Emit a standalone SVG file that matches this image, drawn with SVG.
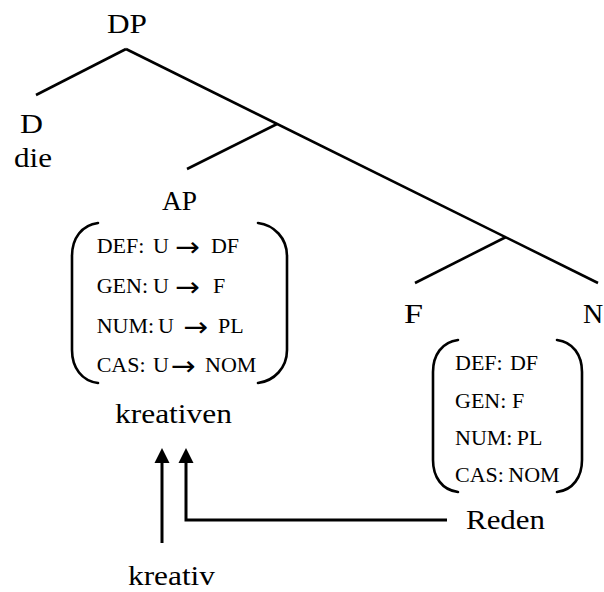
<svg xmlns="http://www.w3.org/2000/svg" width="604" height="592" viewBox="0 0 604 592">
  <style>
    .big { font-family: 'Liberation Serif', 'DejaVu Serif', serif; font-size: 28px; fill: #000; }
    .sm { font-family: 'Liberation Serif', 'DejaVu Serif', serif; font-size: 20px; fill: #000; }
    .ar { font-family: 'DejaVu Sans', sans-serif; font-size: 27px; }
    .edge { stroke: #000; stroke-width: 2.6; fill: none; }
    .brk { stroke: #000; stroke-width: 2.6; fill: none; stroke-linecap: round; }
    .arr { stroke: #000; stroke-width: 3; fill: none; marker-end: url(#head); }
  </style>
  <defs>
    <marker id="head" markerUnits="userSpaceOnUse" markerWidth="16" markerHeight="16" refX="0" refY="7.5" orient="auto" overflow="visible">
      <path d="M0,0 L15,7.5 L0,15 Z" fill="#000"/>
    </marker>
  </defs>
  <rect width="604" height="592" fill="#fff"/>

  <g id="connectors">
    <line class="edge" x1="126" y1="49" x2="36" y2="95"/>
    <line class="edge" x1="126" y1="49" x2="598" y2="283"/>
    <line class="edge" x1="277" y1="124" x2="187" y2="169"/>
    <line class="edge" x1="506" y1="237" x2="415" y2="283"/>
    <line class="arr" x1="162" y1="543" x2="162" y2="463"/>
    <polyline class="arr" points="447,520 186,520 186,463"/>
  </g>

  <g id="DP"><text class="big" x="107" y="33" textLength="40" lengthAdjust="spacingAndGlyphs">DP</text></g>
  <g id="D">
    <text class="big" x="20" y="133" textLength="23" lengthAdjust="spacingAndGlyphs">D</text>
    <text class="big" x="14" y="167" textLength="38" lengthAdjust="spacingAndGlyphs">die</text>
  </g>
  <g id="AP">
    <text class="big" x="162" y="210" textLength="35" lengthAdjust="spacingAndGlyphs">AP</text>
    <path class="brk" d="M98,223 C82,225 72,238 72,256 L72,350 C72,368 82,381 98,383"/>
    <path class="brk" d="M258,223 C274,225 287,238 287,256 L287,350 C287,368 274,381 258,383"/>
    <text class="sm" transform="translate(96.7 253) scale(1.1 1)">DEF:<tspan x="51.2">U</tspan><tspan class="ar" x="71.5" dy="3">→</tspan><tspan x="103.9" dy="-3">DF</tspan></text>
    <text class="sm" transform="translate(96.7 292.5) scale(1.1 1)">GEN:<tspan x="51.2">U</tspan><tspan class="ar" x="71.5" dy="3">→</tspan><tspan x="105.7" dy="-3">F</tspan></text>
    <text class="sm" transform="translate(96.7 332.5) scale(1.1 1)">NUM:<tspan x="55.7">U</tspan><tspan class="ar" x="79" dy="3">→</tspan><tspan x="110.3" dy="-3">PL</tspan></text>
    <text class="sm" transform="translate(96.7 372) scale(1.1 1)">CAS:<tspan x="51.2">U</tspan><tspan class="ar" x="67.5" dy="3">→</tspan><tspan x="98.5" dy="-3">NOM</tspan></text>
    <text class="big" x="115" y="423" textLength="117" lengthAdjust="spacingAndGlyphs">kreativen</text>
  </g>
  <g id="F"><text class="big" x="404" y="323" textLength="19" lengthAdjust="spacingAndGlyphs">F</text></g>
  <g id="N">
    <text class="big" x="583" y="323">N</text>
    <path class="brk" d="M458,340 C442,342 433,355 433,372 L433,460 C433,477 442,490 458,492"/>
    <path class="brk" d="M557,340 C573,342 582,355 582,372 L582,460 C582,477 573,490 557,492"/>
    <text class="sm" transform="translate(455 370) scale(1.1 1)">DEF:<tspan x="50">DF</tspan></text>
    <text class="sm" transform="translate(455 407.5) scale(1.1 1)">GEN:<tspan x="51.8">F</tspan></text>
    <text class="sm" transform="translate(455 445) scale(1.1 1)">NUM:<tspan x="56.1">PL</tspan></text>
    <text class="sm" transform="translate(455 482) scale(1.1 1)">CAS:<tspan x="48.5">NOM</tspan></text>
  </g>
  <g id="Reden"><text class="big" x="466" y="529" textLength="79" lengthAdjust="spacingAndGlyphs">Reden</text></g>
  <g id="kreativ"><text class="big" x="128" y="585" textLength="87" lengthAdjust="spacingAndGlyphs">kreativ</text></g>
</svg>
